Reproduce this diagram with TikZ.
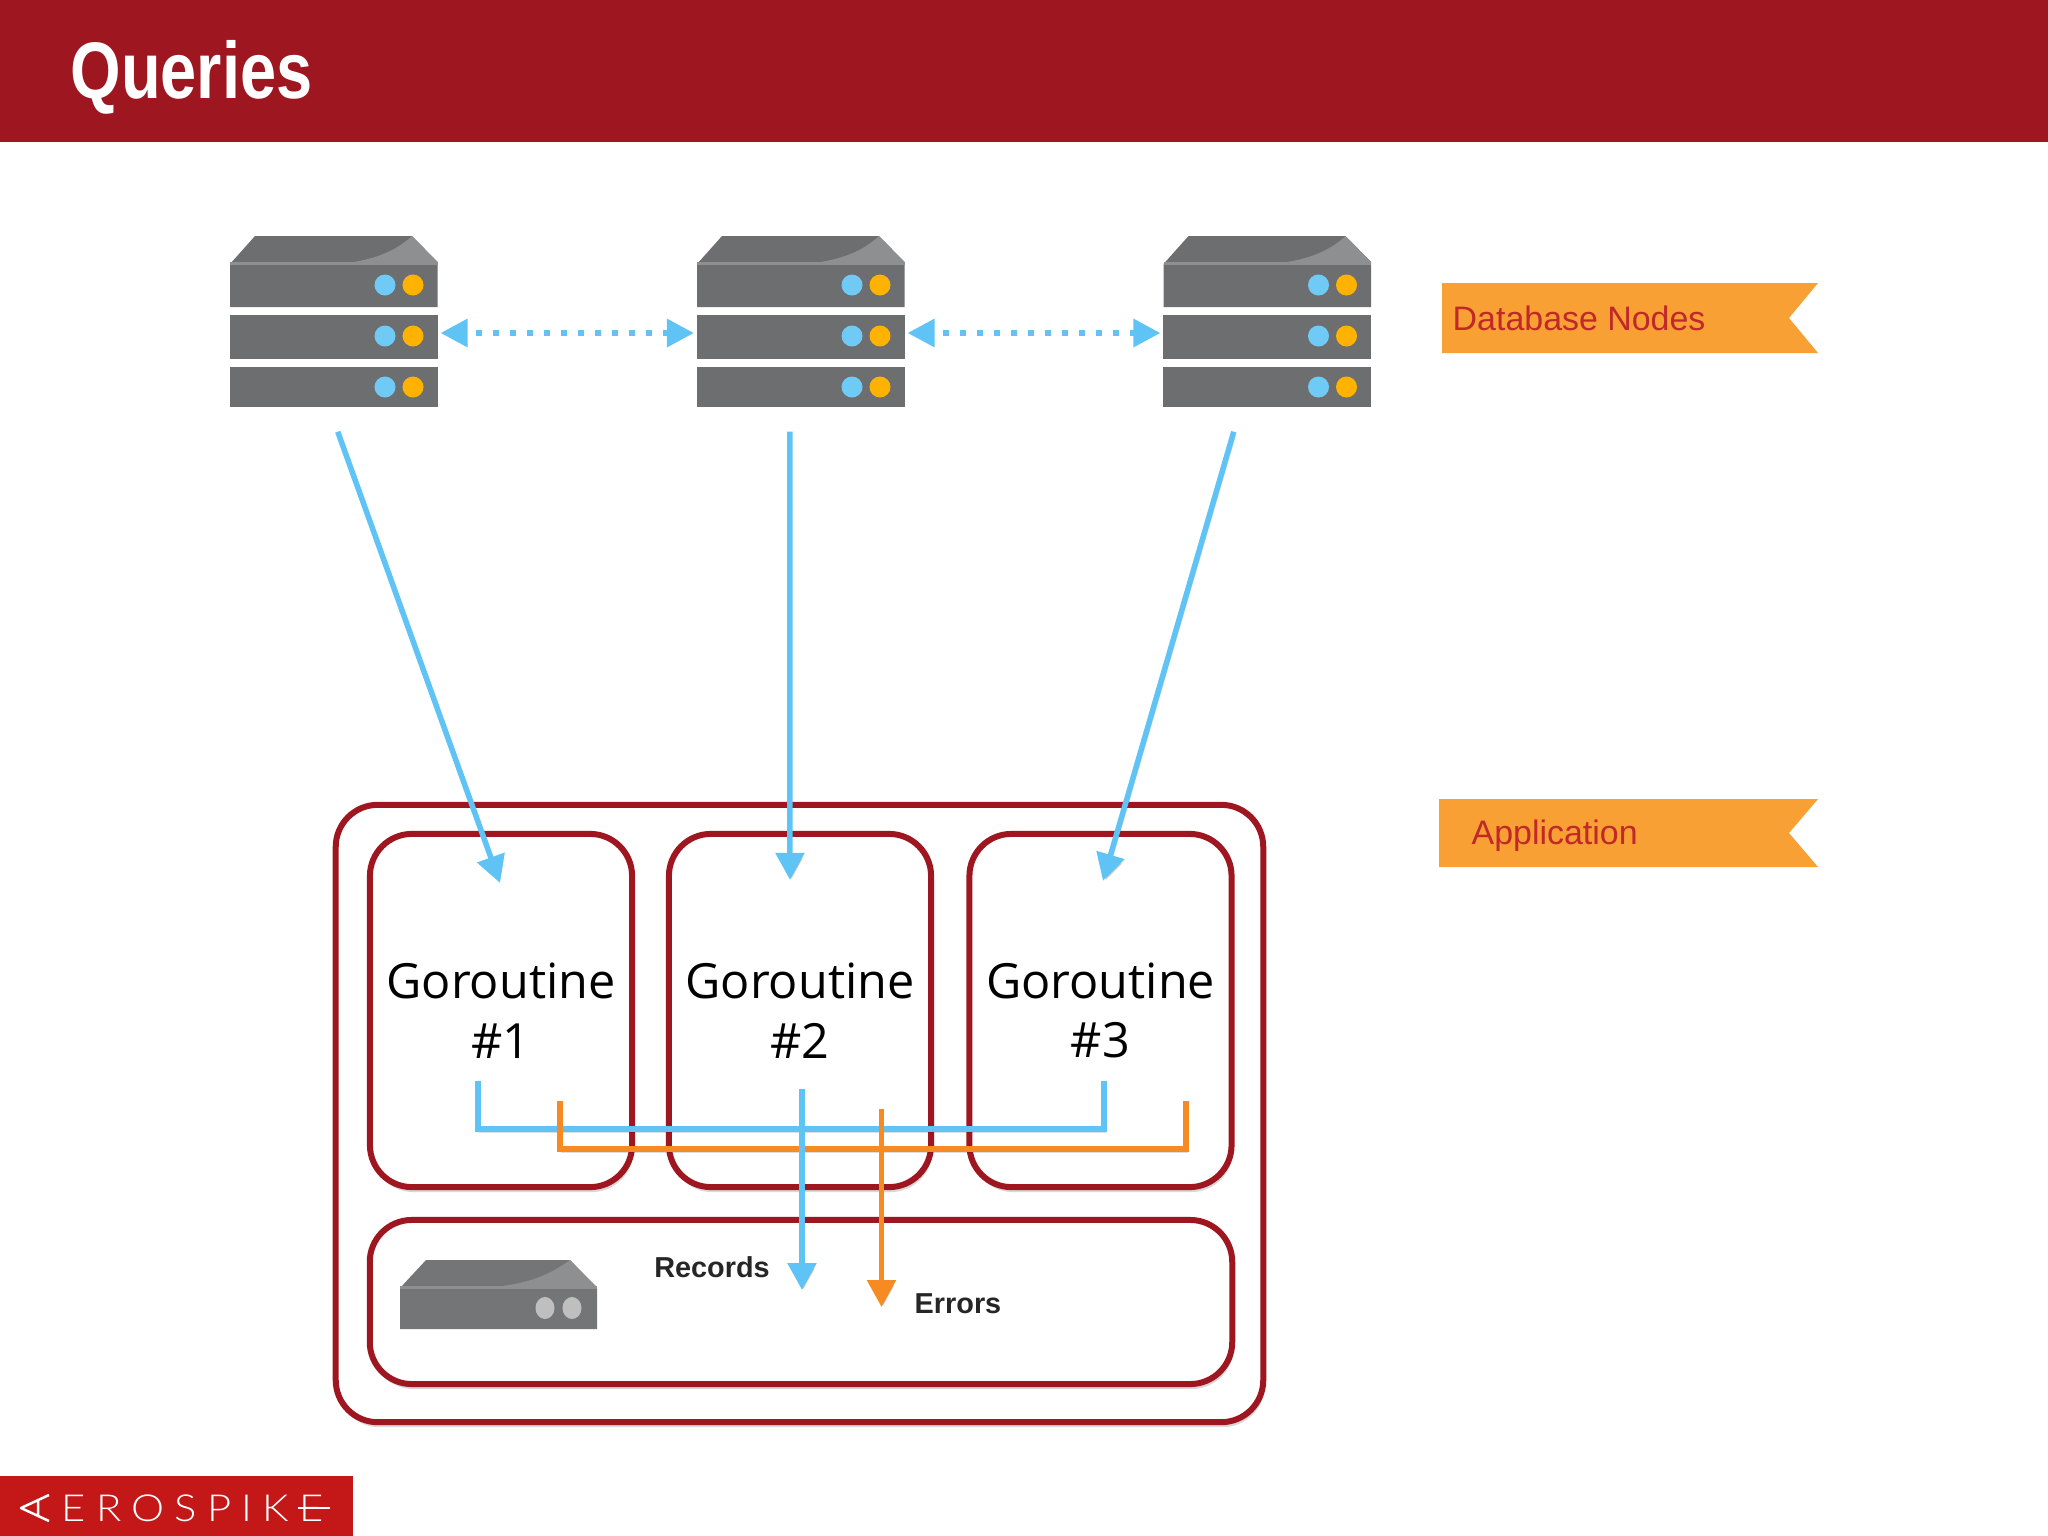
\documentclass[tikz,border=0pt]{standalone}
\usepackage{fontspec}
\setmainfont{Liberation Sans}
\newfontfamily\gofont{Open Sans}
\newfontfamily\logofont{Lato}[UprightFont=* Light, LetterSpace=24.5]
\usetikzlibrary{shadows, positioning, arrows.meta, calc}
\definecolor{brickred}{HTML}{9E1620}
\definecolor{logored}{HTML}{C41718}
\definecolor{ribbon}{HTML}{F9A034}
\definecolor{ribbontxt}{HTML}{C0282A}
\definecolor{skyblue}{HTML}{5FC4F5}
\definecolor{wireorange}{HTML}{F58B22}
\definecolor{slab}{HTML}{6D6E70}
\definecolor{slablight}{HTML}{8E8F91}

\begin{document}
\begin{tikzpicture}[
        x=0.01cm, y=-0.01cm,
        % --- stiluri ---
        % 1. Cutiile rosii
        box/.style={
                draw=brickred,
                fill=white,
                line width=0.06cm,
                drop shadow={opacity=0.3, shadow xshift=0.015cm, shadow yshift=-0.05cm},
                align=center,
                inner sep=0pt
            },
        goroutine/.style={
                box,
                rounded corners=0.42cm,
                minimum width=2.62cm,
                minimum height=3.53cm,
                font=\gofont\fontsize{13.8}{17}\selectfont
            },
        % 2. Etichetele portocalii
        tag/.style={
                anchor=west,
                inner sep=0pt,
                text=ribbontxt,
                font=\fontsize{9.65}{11}\selectfont
            },
        % 3. Sagetile
        lifted/.style={
                preaction={draw=black, draw opacity=0.13, fill opacity=0.13,
                    transform canvas={shift={(0.015cm,-0.035cm)}}}
            },
        feed/.style={
                draw=skyblue,
                line width=0.055cm,
                lifted,
                -{Triangle[length=0.27cm, width=0.28cm]}
            },
        sync/.style={
                draw=skyblue,
                line width=0.06cm,
                dash pattern=on 0.06cm off 0.11cm,
                dash phase=0.07cm,
                {Triangle[length=0.27cm, width=0.27cm]}-{Triangle[length=0.27cm, width=0.27cm]}
            },
        wire/.style={line width=0.055cm, lifted},
        % 4. Serverele
        slabpart/.style={
                fill=slab,
                minimum width=2.08cm,
                inner sep=0pt
            },
        result/.style={
                font=\bfseries\fontsize{8.2}{10}\selectfont,
                text=black!85,
                inner sep=0pt
            }
    ]
    \useasboundingbox (0,0) rectangle (2048,1536);

    % 1. Antetul si logo-ul
    \fill[brickred] (0,0) rectangle (2048,142);
    \node[anchor=west, inner sep=0pt, text=white, xscale=0.81,
        font=\bfseries\fontsize{22.8}{26}\selectfont] (title) at (70,77) {Queries};

    \fill[logored] (0,1476) rectangle (353,1536);
    \node[anchor=west, inner sep=0pt, text=white, xscale=1.12,
        font=\logofont\fontsize{10.6}{12}\selectfont] (logo) at (61,1508) {EROSPIKE};
    \draw[white, line width=0.025cm, line join=round] (49,1495) -- (21,1508) -- (49,1521) (38,1500) -- (38,1516);
    \draw[white, line width=0.025cm] (298,1508) -- (330,1508);

    % 2. Serverele de sus
    \foreach \i/\x in {1/230, 2/697, 3/1163.5} {
        \begin{scope}[shift={(\x,0)}]
            \fill[slab] (0,264) -- (25,236) -- (182,236) -- (207.5,262) -- (207.5,307) -- (0,307) -- cycle;
            \fill[slablight] (182,236) -- (207.5,262) -- (104,264) .. controls (140,262) and (165,252) .. (182,236) -- cycle;
            \fill[slablight] (0,262) rectangle (207.5,265);
            \node[slabpart, minimum height=0.44cm] (srv\i) at (103.75,337) {};
            \node[slabpart, minimum height=0.40cm] (low\i) at (103.75,387) {};
            \foreach \y in {285, 336, 387} {
                \fill[skyblue!90!white] (155,\y) circle (0.105cm);
                \fill[orange!60!yellow] (183,\y) circle (0.105cm);
            }
        \end{scope}
    }

    % 3. Etichetele
    \fill[ribbon] (1442,283) -- (1818,283) -- (1789,318) -- (1818,353) -- (1442,353) -- cycle;
    \node[tag] (dbtag) at (1452,318) {Database Nodes};
    \fill[ribbon] (1439,799) -- (1818,799) -- (1789,833) -- (1818,867) -- (1439,867) -- cycle;
    \node[tag] (apptag) at (1471,836) {Application};

    % 4. Aplicatia
    \node[box, rounded corners=0.42cm, minimum width=9.27cm, minimum height=6.17cm] (app) at (799.5,1113.5) {};
    \node[goroutine] (go1) at (501,1010.5) {Goroutine\\\#1};
    \node[goroutine] (go2) at (800,1010.5) {Goroutine\\\#2};
    \node[goroutine] (go3) at (1100.5,1010.5) {Goroutine\\\#3};
    \node[box, rounded corners=0.42cm, minimum width=8.62cm, minimum height=1.64cm] (sink) at (801,1302) {};

    % Serverul mic din aplicatie
    \fill[slab!95!white] (400,1288) -- (426,1260) -- (570,1260) -- (597,1288) -- (597,1329) -- (400,1329) -- cycle;
    \fill[slablight] (570,1260) -- (597,1287) -- (490,1287) .. controls (525,1285) and (550,1275) .. (570,1260) -- cycle;
    \fill[slablight] (400,1286) rectangle (597,1289);
    \fill[black!25] (545,1308) ellipse (0.095cm and 0.11cm) (572,1308) ellipse (0.095cm and 0.11cm);

    % 5. Sagetile dintre noduri
    \draw[sync] ([shift={(2,-4)}]srv1.east) -- ([shift={(-2,-4)}]srv2.west);
    \draw[sync] ([shift={(2,-4)}]srv2.east) -- ([shift={(-2,-4)}]srv3.west);

    % 6. Sagetile spre goroutine
    \coordinate (out1) at ($(low1.south)+(4,24)$);
    \coordinate (out2) at ($(low2.south)+(-11,24)$);
    \coordinate (out3) at ($(low3.south)+(-33.5,24)$);
    \coordinate (in1) at ($(go1.north)+(-1,52)$);
    \coordinate (in2) at ($(go2.north)+(-10,49)$);
    \coordinate (in3) at ($(go3.north)+(2.5,50)$);
    \draw[feed] (out1) -- (in1);
    \draw[feed] (out2) -- (in2);
    \draw[feed] (out3) -- (in3);

    % 7. Colectarea rezultatelor
    \draw[wire, draw=skyblue] (478,1081) |- (1104,1129) -- (1104,1081);
    \draw[wire, draw=wireorange] (560,1101) |- (1186,1149) -- (1186,1101);
    \coordinate (rec) at (802,1290);
    \coordinate (err) at (881.5,1307);
    \draw[feed] (802,1089) -- (rec);
    \draw[feed, draw=wireorange] (881.5,1109) -- (err);
    \node[result] (records) at (712,1267) {Records};
    \node[result] (errors) at (958,1304) {Errors};

\end{tikzpicture}
\end{document}
